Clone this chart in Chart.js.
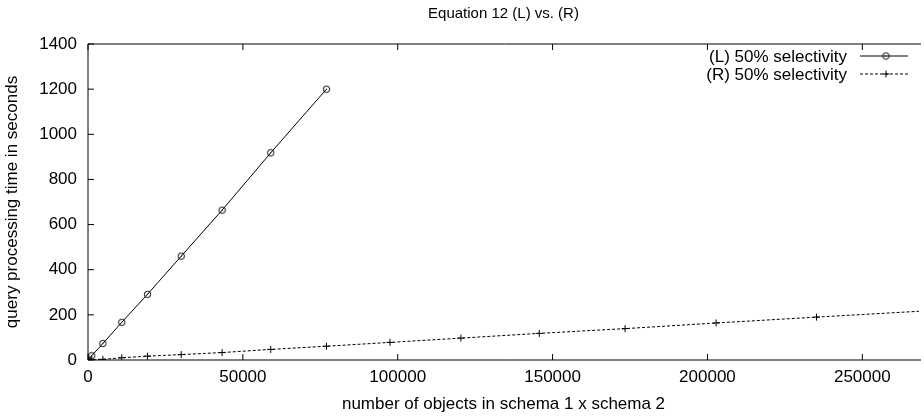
<!DOCTYPE html>
<html lang="en">
<head>
<meta charset="UTF-8">
<title>Equation 12 (L) vs. (R)</title>
<script src="https://cdn.jsdelivr.net/npm/chart.js@4.4.0/dist/chart.umd.min.js"></script>
<style>
  body { margin: 0; background: #fff; }
  canvas { display: block; }
</style>
</head>
<body>
<canvas id="eqChart" width="924" height="417"></canvas>
<script>
// number of objects in schema 1 x schema 2
const objectCounts = [0, 1200, 4800, 10900, 19200, 30100, 43300, 59000, 77000, 97500, 120400, 145700, 173400, 202800, 235200, 271000];
// query processing time in seconds
const timesL = [0, 19, 73, 167, 291, 460, 664, 918, 1200];
const timesR = [0, 1, 3, 10, 17, 24, 33, 47, 61, 78, 97, 118, 139, 164, 190, 218];
const xTicks = [0, 50000, 100000, 150000, 200000, 250000];
const yTicks = [0, 200, 400, 600, 800, 1000, 1200, 1400];

const FONT = '"Liberation Sans", Arial, sans-serif';
Chart.defaults.color = '#000';
Chart.defaults.font.family = FONT;

// open circle with a dot, like gnuplot point type 6
function circleMarker() {
    const c = document.createElement('canvas');
    c.width = 9; c.height = 9;
    const g = c.getContext('2d');
    g.strokeStyle = '#000';
    g.lineWidth = 1;
    g.beginPath();
    g.arc(4.5, 4.5, 3.2, 0, Math.PI * 2);
    g.stroke();
    g.fillStyle = '#000';
    g.fillRect(4, 4, 1, 1);
    return c;
}

// border box + inward ticks
const framePlugin = {
    id: 'frame',
    beforeDatasetsDraw(chart) {
        const { ctx, chartArea: a, scales: { x, y } } = chart;
        ctx.save();
        ctx.strokeStyle = '#000';
        ctx.lineWidth = 1;
        ctx.beginPath();
        ctx.moveTo(a.right + 2, a.top);
        ctx.lineTo(a.left, a.top);
        ctx.lineTo(a.left, a.bottom);
        ctx.lineTo(a.right + 2, a.bottom);
        xTicks.forEach(v => {
            const px = x.getPixelForValue(v);
            ctx.moveTo(px, a.bottom); ctx.lineTo(px, a.bottom - 6);
            ctx.moveTo(px, a.top); ctx.lineTo(px, a.top + 6);
        });
        yTicks.forEach(v => {
            const py = y.getPixelForValue(v);
            ctx.moveTo(a.left, py); ctx.lineTo(a.left + 6, py);
        });
        ctx.stroke();
        ctx.restore();
    }
};

// title centered over plot area
const titlePlugin = {
    id: 'plotTitle',
    afterDraw(chart) {
        const { ctx, chartArea: a } = chart;
        ctx.save();
        ctx.font = '15px ' + FONT;
        ctx.fillStyle = '#000';
        ctx.textAlign = 'center';
        ctx.textBaseline = 'middle';
        ctx.fillText('Equation 12 (L) vs. (R)', (a.left + a.right) / 2, 14);
        ctx.restore();
    }
};

// gnuplot style key: text on the left, sample on the right
const keyPlugin = {
    id: 'key',
    afterDraw(chart) {
        const { ctx } = chart;
        ctx.save();
        chart.data.datasets.forEach((ds, i) => {
            const yRow = 56 + i * 18;
            ctx.font = '17px ' + FONT;
            ctx.fillStyle = '#000';
            ctx.textAlign = 'right';
            ctx.textBaseline = 'middle';
            ctx.fillText(ds.label, 847, yRow + 1);
            ctx.strokeStyle = ds.borderColor;
            ctx.lineWidth = ds.borderWidth;
            ctx.setLineDash(ds.borderDash || []);
            ctx.beginPath();
            ctx.moveTo(860, yRow);
            ctx.lineTo(908, yRow);
            ctx.stroke();
            ctx.setLineDash([]);
            ctx.strokeStyle = ds.pointBorderColor;
            ctx.fillStyle = ds.pointBackgroundColor;
            ctx.lineWidth = ds.pointBorderWidth;
            Chart.helpers.drawPoint(ctx, {
                pointStyle: ds.pointStyle,
                radius: ds.pointRadius,
                borderWidth: ds.pointBorderWidth,
                rotation: 0
            }, 886, yRow);
        });
        ctx.restore();
    }
};

new Chart(document.getElementById('eqChart'), {
    type: 'line',
    data: {
        datasets: [
            {
                label: '(L) 50% selectivity',
                data: timesL.map((t, i) => ({ x: objectCounts[i], y: t })),
                borderColor: '#000',
                borderWidth: 1,
                pointStyle: circleMarker(),
                pointRadius: 3.5,
                pointBorderColor: '#000',
                pointBackgroundColor: '#000',
                pointBorderWidth: 1,
                tension: 0
            },
            {
                label: '(R) 50% selectivity',
                data: timesR.map((t, i) => ({ x: objectCounts[i], y: t })),
                borderColor: '#000',
                borderWidth: 1,
                borderDash: [3, 2],
                pointStyle: 'cross',
                pointRadius: 3.5,
                pointBorderColor: '#000',
                pointBackgroundColor: '#000',
                pointBorderWidth: 1,
                tension: 0
            }
        ]
    },
    options: {
        responsive: false,
        animation: false,
        devicePixelRatio: 1,
        layout: { padding: { top: 44, right: 0, bottom: 0, left: 0 } },
        plugins: {
            legend: { display: false },
            title: { display: false },
            tooltip: { enabled: false }
        },
        scales: {
            x: {
                type: 'linear',
                min: 0,
                max: 268300,
                grid: { display: false, drawTicks: false },
                border: { display: false },
                afterBuildTicks: s => { s.ticks = xTicks.map(v => ({ value: v })); },
                afterFit: s => { s.height = 57; },
                ticks: { font: { size: 17 }, padding: 7, maxRotation: 0, autoSkip: false, callback: v => String(v) },
                title: {
                    display: true,
                    text: 'number of objects in schema 1 x schema 2',
                    font: { size: 17 },
                    padding: { top: 0, bottom: 2 }
                }
            },
            y: {
                min: 0,
                max: 1400,
                grid: { display: false, drawTicks: false },
                border: { display: false },
                afterBuildTicks: s => { s.ticks = yTicks.map(v => ({ value: v })); },
                afterFit: s => { s.width = 88; },
                ticks: { font: { size: 17 }, padding: 11, callback: v => String(v) },
                title: {
                    display: true,
                    text: 'query processing time in seconds',
                    font: { size: 17 },
                    padding: { top: 2, bottom: 0 }
                }
            }
        }
    },
    plugins: [framePlugin, titlePlugin, keyPlugin]
});
</script>
</body>
</html>
